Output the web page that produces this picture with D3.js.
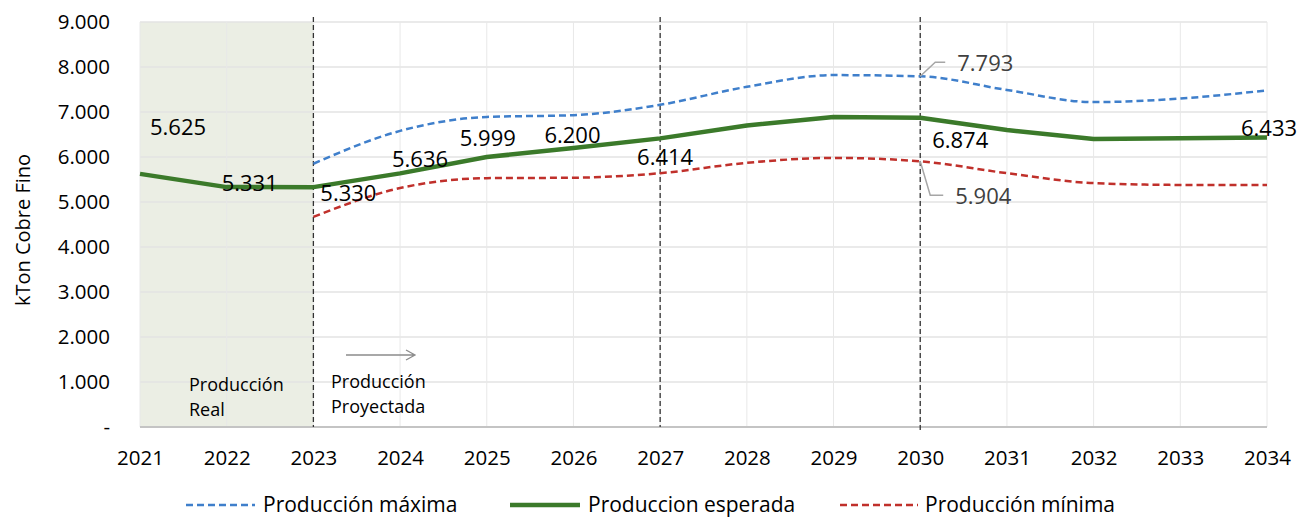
<!DOCTYPE html>
<html><head><meta charset="utf-8">
<script src="https://cdn.jsdelivr.net/npm/d3@7/dist/d3.min.js"></script>
<style>body{margin:0;background:#fff}svg{display:block}text{font-family:"Open Sans",sans-serif;fill:#000}</style>
</head><body><svg id="c" width="1307" height="519"></svg>
<script>
const years = [2021,2022,2023,2024,2025,2026,2027,2028,2029,2030,2031,2032,2033,2034];
const esperada = [5625,5331,5330,5636,5999,6200,6414,6700,6890,6874,6600,6400,6415,6433];
const maxYears = [2023,2024,2025,2026,2027,2028,2029,2030,2031,2032,2033,2034];
const maxima = [5850,6580,6890,6930,7160,7560,7820,7793,7490,7220,7300,7480];
const minima = [4670,5310,5530,5540,5640,5870,5980,5904,5640,5420,5380,5380];
const yTicks = [0,1000,2000,3000,4000,5000,6000,7000,8000,9000];
const yTickLabels = ["-","1.000","2.000","3.000","4.000","5.000","6.000","7.000","8.000","9.000"];
const markerYears = [2023,2027,2030];
const labelsEsperada = ["5.625","5.331","5.330","5.636","5.999","6.200","6.414","","","6.874","","","","6.433"];
const legendNames = ["Producción máxima","Produccion esperada","Producción mínima"];

const svg = d3.select("#c");
const x = d3.scaleLinear().domain([2021,2034]).range([140,1267]);
const y = d3.scaleLinear().domain([0,9000]).range([427,22]);

svg.append("rect").attr("x",x(2021)).attr("y",y(9000)).attr("width",x(2023)-x(2021)).attr("height",y(0)-y(9000)).attr("fill","#ebeee4");

svg.append("g").selectAll("line").data(yTicks.filter(d=>d>0)).join("line")
  .attr("x1",x(2021)).attr("x2",x(2034)).attr("y1",d=>y(d)).attr("y2",d=>y(d))
  .attr("stroke","#e3e3e3").attr("stroke-width",1.5);
svg.append("g").selectAll("line").data(years).join("line")
  .attr("x1",d=>x(d)).attr("x2",d=>x(d)).attr("y1",y(9000)).attr("y2",y(0))
  .attr("stroke","#e8e8e8").attr("stroke-width",1);
svg.append("line").attr("x1",x(2021)).attr("x2",x(2034)).attr("y1",y(0)).attr("y2",y(0)).attr("stroke","#c4c4c4").attr("stroke-width",2);

const yAxis = d3.axisLeft(y).tickValues(yTicks).tickFormat((d,i)=>yTickLabels[i]).tickSize(0).tickPadding(0);
const ya = svg.append("g").attr("transform","translate(110,0)").call(yAxis);
ya.select(".domain").remove();
ya.selectAll("text").style("font-size","20.5px").attr("font-family","Open Sans").attr("fill","#000");

const xAxis = d3.axisBottom(x).tickValues(years).tickFormat(d3.format("d")).tickSize(0).tickPadding(0);
const xa = svg.append("g").attr("transform","translate(0,450)").call(xAxis);
xa.select(".domain").remove();
xa.selectAll("text").style("font-size","20.5px").attr("font-family","Open Sans").attr("fill","#000");

svg.append("text").attr("transform","translate(30,230) rotate(-90)").attr("text-anchor","middle").style("font-size","20px").text("kTon Cobre Fino");

svg.append("g").selectAll("line").data(markerYears).join("line")
  .attr("x1",d=>x(d)).attr("x2",d=>x(d)).attr("y1",17).attr("y2",(d,i)=>i==2?432:427)
  .attr("stroke","#333").attr("stroke-width",1.3).attr("stroke-dasharray","5,3");

const smooth = d3.line().curve(d3.curveMonotoneX);
const straight = d3.line();
svg.append("path").attr("d",smooth(maxYears.map((d,i)=>[x(d),y(maxima[i])]))).attr("fill","none").attr("stroke","#3f7fcb").attr("stroke-width",2.5).attr("stroke-dasharray","7,4");
svg.append("path").attr("d",smooth(maxYears.map((d,i)=>[x(d),y(minima[i])]))).attr("fill","none").attr("stroke","#c0302b").attr("stroke-width",2.5).attr("stroke-dasharray","7,4");
svg.append("path").attr("d",straight(years.map((d,i)=>[x(d),y(esperada[i])]))).attr("fill","none").attr("stroke","#3b7a2a").attr("stroke-width",4.5).attr("stroke-linejoin","round");

const off = {2021:[38,-39],2022:[23,4],2023:[35,14],2024:[20,-6],2025:[1,-11],2026:[-1,-5],2027:[5,27],2030:[40,30],2034:[2,-2]};
svg.append("g").selectAll("text").data(years.filter((d,i)=>labelsEsperada[i])).join("text")
  .attr("x",d=>x(d)+off[d][0]).attr("y",d=>y(esperada[years.indexOf(d)])+off[d][1])
  .attr("text-anchor","middle").style("font-size","22px").text(d=>labelsEsperada[years.indexOf(d)]);

const i30 = maxYears.indexOf(2030);
const px = x(2030), pyMax = y(maxima[i30]), pyMin = y(minima[i30]);
svg.append("path").attr("d",`M${px},${pyMax} L${px+15},${pyMax-14} L${px+25},${pyMax-14}`).attr("fill","none").attr("stroke","#a6a6a6").attr("stroke-width",1.5);
svg.append("text").attr("x",px+37).attr("y",pyMax-5).style("font-size","22px").style("fill","#404040").text(d3.format(",")(maxima[i30]).replace(",","."));
svg.append("path").attr("d",`M${px},${pyMin} L${px+10},${pyMin+34} L${px+23},${pyMin+34}`).attr("fill","none").attr("stroke","#a6a6a6").attr("stroke-width",1.5);
svg.append("text").attr("x",px+35).attr("y",pyMin+43).style("font-size","22px").style("fill","#404040").text(d3.format(",")(minima[i30]).replace(",","."));

svg.append("text").attr("x",189).attr("y",391).style("font-size","18px").text("Producción");
svg.append("text").attr("x",189).attr("y",416).style("font-size","18px").text("Real");
svg.append("text").attr("x",331).attr("y",388).style("font-size","18px").text("Producción");
svg.append("text").attr("x",331).attr("y",413).style("font-size","18px").text("Proyectada");
svg.append("path").attr("d","M346,355 L414,355 M406,350 L415,355 L406,360").attr("fill","none").attr("stroke","#8c8c8c").attr("stroke-width",1.3);

const leg = [{x1:186,x2:255,tx:263,c:"#3f7fcb",w:2.5,da:"7,4"},{x1:510,x2:580,tx:588,c:"#3b7a2a",w:4.5,da:null},{x1:840,x2:918,tx:925,c:"#c0302b",w:2.5,da:"7,4"}];
leg.forEach((l,i)=>{
  svg.append("line").attr("x1",l.x1).attr("x2",l.x2).attr("y1",505).attr("y2",505).attr("stroke",l.c).attr("stroke-width",l.w).attr("stroke-dasharray",l.da);
  svg.append("text").attr("x",l.tx).attr("y",512).style("font-size","21px").text(legendNames[i]);
});
</script></body></html>
